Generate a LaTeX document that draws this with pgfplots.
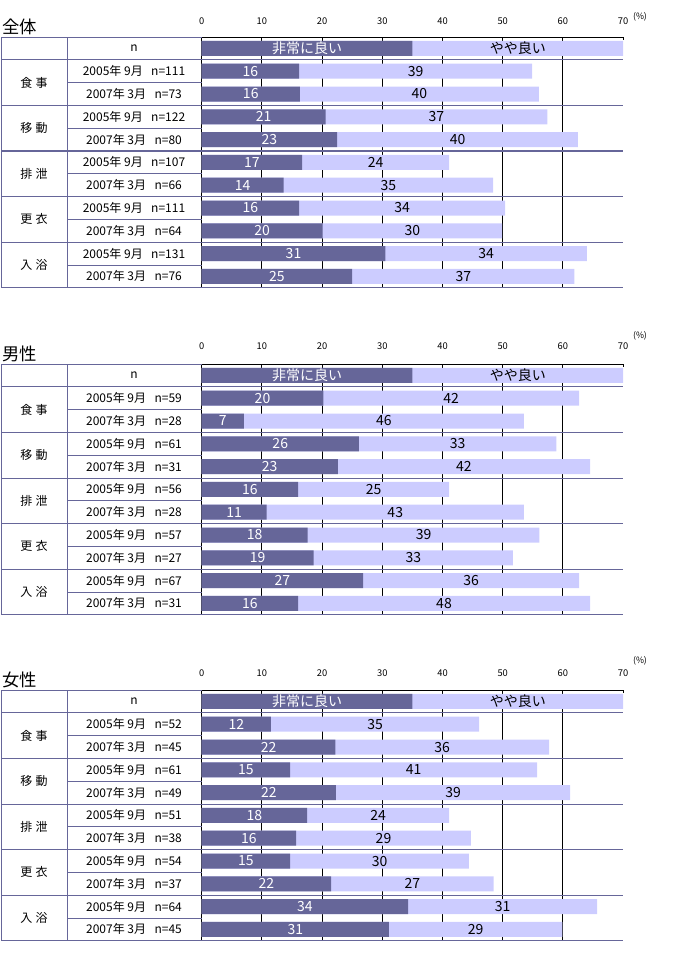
\documentclass[border=0pt]{standalone}
\usepackage{fontspec}
\setmainfont{Noto Sans CJK JP}
\usepackage{pgfplots}
\usepackage{pgfplotstable}
\pgfplotsset{compat=1.18}
\definecolor{dk}{RGB}{102,102,153}
\definecolor{lt}{RGB}{204,204,255}
\definecolor{ln}{RGB}{102,102,153}
\newcommand\rl{\fontsize{9}{9}\selectfont}
\newcommand\lbl{\fontsize{10.5}{10.5}\selectfont}

\pgfplotstableread{
y d l dl ll
0 35 35 非常に良い やや良い
-1 16.2 38.7 16 39
-2 16.3 39.7 16 40
-3 20.6 36.8 21 37
-4 22.5 40.0 23 40
-5 16.7 24.4 17 24
-6 13.6 34.8 14 35
-7 16.2 34.2 16 34
-8 20.1 29.8 20 30
-9 30.5 33.5 31 34
-10 25.0 36.9 25 37
}\tAll

\pgfplotstableread{
y d l dl ll
0 35 35 非常に良い やや良い
-1 20.2 42.5 20 42
-2 7.0 46.5 7 46
-3 26.1 32.8 26 33
-4 22.6 41.9 23 42
-5 16.0 25.1 16 25
-6 10.8 42.7 11 43
-7 17.6 38.5 18 39
-8 18.6 33.1 19 33
-9 26.8 35.9 27 36
-10 16.0 48.5 16 48
}\tMale

\pgfplotstableread{
y d l dl ll
0 35 35 非常に良い やや良い
-1 11.5 34.6 12 35
-2 22.2 35.5 22 36
-3 14.7 41.0 15 41
-4 22.3 38.9 22 39
-5 17.5 23.6 18 24
-6 15.7 29.0 16 29
-7 14.7 29.7 15 30
-8 21.5 27.0 22 27
-9 34.3 31.4 34 31
-10 31.1 28.8 31 29
}\tFemale

\pgfplotsset{panel/.style={
  scale only axis, x=4.515pt, y=17.1pt,
  xmin=0, xmax=70, ymin=-10.5, ymax=0.5,
  clip=false,
  axis x line*=top, axis y line*=left,
  axis line style={black, line width=0.75pt},
  xtick={0,10,...,70}, ytick=\empty,
  major tick length=2.6pt, tick style={black, line width=0.75pt},
  tick align=inside,
  xticklabel style={font=\fontsize{7}{7}\selectfont},
  /pgf/number format/assume math mode=true,
  extra x ticks={10,20,...,60}, extra x tick labels={},
  extra x tick style={grid=major, major grid style={black, line width=0.75pt}},
}}

% #1 top px, #2 table, #3 title, #4 (%) dy px, #5 ticklabel yshift, #6 n list, #7 thick line width
\newcommand\panel[7]{%
\begin{axis}[panel, at={(151.275pt,-#1*0.75pt)}, anchor=north west, xticklabel style={yshift=#5}]
\addplot[xbar, bar width=11.25pt, bar shift=0pt, fill=lt, draw=none, forget plot]
  table[x expr=\thisrow{d}+\thisrow{l}, y=y]{#2};
\addplot[xbar, bar width=11.25pt, bar shift=0pt, fill=dk, draw=none, forget plot]
  table[x=d, y=y]{#2};
\addplot[draw=none, mark=none, nodes near coords, point meta=explicit symbolic,
  every node near coord/.append style={anchor=center, text=white, font=\lbl}]
  table[x expr=\thisrow{d}/2, y=y, meta=dl]{#2};
\addplot[draw=none, mark=none, nodes near coords, point meta=explicit symbolic,
  every node near coord/.append style={anchor=center, text=black, font=\lbl}]
  table[x expr=\thisrow{d}+\thisrow{l}/2, y=y, meta=ll]{#2};
\end{axis}
\begin{scope}[x=0.75pt, y=-0.75pt, yshift=-#1*0.75pt]
  \draw[ln, line width=0.75pt] (1,0) -- (201.7,0);
  \draw[ln, line width=0.75pt] (1,0) -- (1,250.8);
  \draw[ln, line width=0.75pt] (67,0) -- (67,250.8);
  \draw[ln, line width=0.75pt] (1,22.8) -- (623,22.8);
  \foreach \k in {3,5,7,9} {\draw[ln, line width=0.75pt] (1,22.8*\k) -- (623,22.8*\k);}
  \foreach \k in {2,4,6,8,10} {\draw[ln, line width=0.75pt] (67,22.8*\k) -- (201.7,22.8*\k);}
  \draw[ln, line width=0.75pt] (1,250.8) -- (623,250.8);
  \draw[ln, line width=#7] (1,114) -- (623,114);
  \node[anchor=west, font=\fontsize{13}{13}\selectfont, inner sep=0pt] at (2,-10.5) {#3};
  \node[font=\fontsize{6.5}{7}\selectfont, inner sep=0pt] at (640,#4) {(\%)};
  \node[font=\rl] at (134,11.4) {n};
  \foreach \a/\b [count=\i from 0] in {食/事,移/動,排/泄,更/衣,入/浴}
    {\node[font=\rl] at (34,{22.8*(2+2*\i)}) {\a\hspace{2.5pt}\b};}
  \foreach \r/\n in {#6}
    {\node[font=\rl] at (134,{22.8*(\r+0.5)}) {\ifodd\r\relax 2005年 9月\else 2007年 3月\fi\hspace{0.7em}n=\n};}
\end{scope}
}

\begin{document}
\begin{tikzpicture}
\path[use as bounding box] (0,0) rectangle (517.5pt,-723pt);
\panel{37}{\tAll}{全体}{-20}{6pt}{1/111,2/73,3/122,4/80,5/107,6/66,7/111,8/64,9/131,10/76}{1.6pt}
\panel{364}{\tMale}{男性}{-28}{7.5pt}{1/59,2/28,3/61,4/31,5/56,6/28,7/57,8/27,9/67,10/31}{0.75pt}
\panel{690}{\tFemale}{女性}{-29}{6.75pt}{1/52,2/45,3/61,4/49,5/51,6/38,7/54,8/37,9/64,10/45}{0.75pt}
\end{tikzpicture}
\end{document}
